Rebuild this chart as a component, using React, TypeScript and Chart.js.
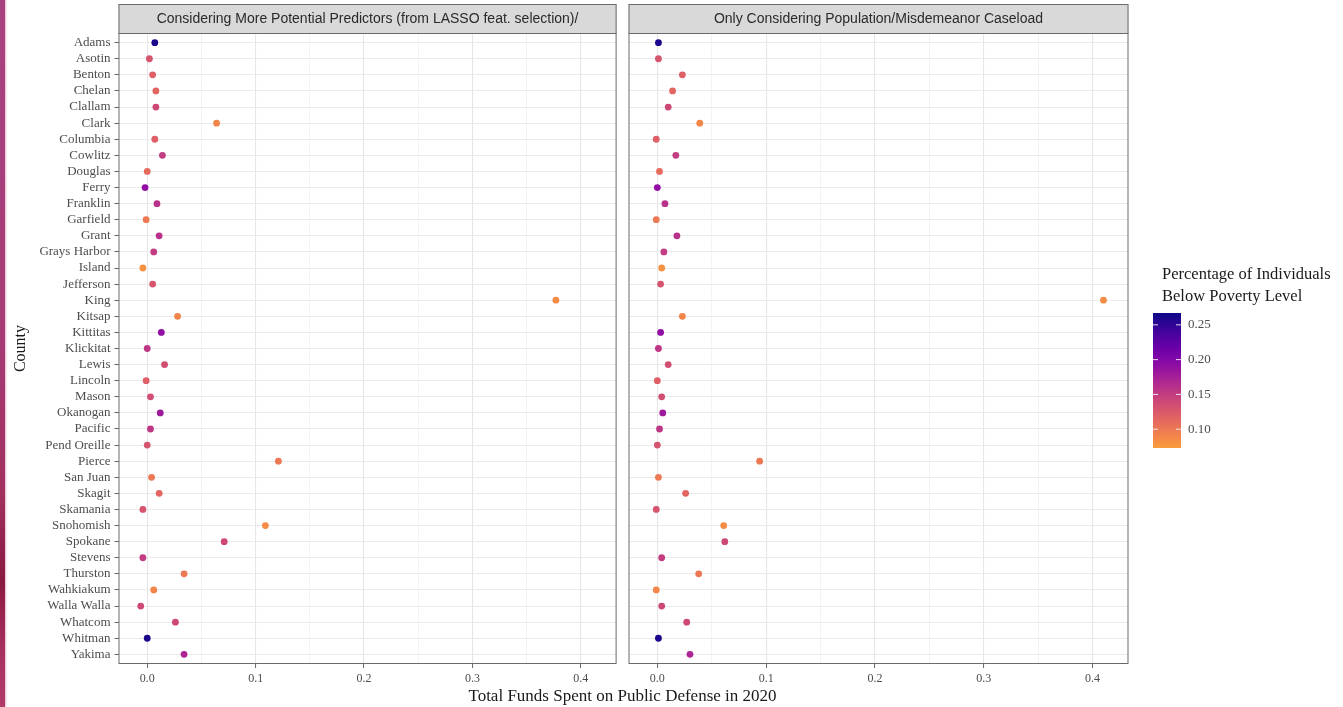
import React, { useEffect, useRef } from 'react';
import { Chart, registerables } from 'chart.js';

Chart.register(...registerables);

const counties = [
  'Adams', 'Asotin', 'Benton', 'Chelan', 'Clallam', 'Clark', 'Columbia', 'Cowlitz',
  'Douglas', 'Ferry', 'Franklin', 'Garfield', 'Grant', 'Grays Harbor', 'Island',
  'Jefferson', 'King', 'Kitsap', 'Kittitas', 'Klickitat', 'Lewis', 'Lincoln', 'Mason',
  'Okanogan', 'Pacific', 'Pend Oreille', 'Pierce', 'San Juan', 'Skagit', 'Skamania',
  'Snohomish', 'Spokane', 'Stevens', 'Thurston', 'Wahkiakum', 'Walla Walla', 'Whatcom',
  'Whitman', 'Yakima',
];

// Panel 1: more potential predictors (LASSO)
const lassoFunds = [
  0.007, 0.002, 0.005, 0.008, 0.008, 0.064, 0.007, 0.014,
  0.000, -0.002, 0.009, -0.001, 0.011, 0.006, -0.004,
  0.005, 0.377, 0.028, 0.013, 0.000, 0.016, -0.001, 0.003,
  0.012, 0.003, 0.000, 0.121, 0.004, 0.011, -0.004,
  0.109, 0.071, -0.004, 0.034, 0.006, -0.006, 0.026,
  0.000, 0.034,
];

// Panel 2: population / misdemeanor caseload only
const caseloadFunds = [
  0.001, 0.001, 0.023, 0.014, 0.010, 0.039, -0.001, 0.017,
  0.002, 0.000, 0.007, -0.001, 0.018, 0.006, 0.004,
  0.003, 0.410, 0.023, 0.003, 0.001, 0.010, 0.000, 0.004,
  0.005, 0.002, 0.000, 0.094, 0.001, 0.026, -0.001,
  0.061, 0.062, 0.004, 0.038, -0.001, 0.004, 0.027,
  0.001, 0.030,
];

// Percentage of individuals below poverty level
const povertyRate = [
  0.26, 0.13, 0.12, 0.115, 0.14, 0.09, 0.12, 0.15,
  0.11, 0.19, 0.16, 0.10, 0.16, 0.15, 0.08,
  0.13, 0.085, 0.09, 0.19, 0.155, 0.135, 0.12, 0.135,
  0.18, 0.155, 0.13, 0.10, 0.10, 0.115, 0.13,
  0.085, 0.14, 0.15, 0.10, 0.09, 0.14, 0.14,
  0.26, 0.17,
];

const panelTitles = [
  'Considering More Potential Predictors (from LASSO feat. selection)/',
  'Only Considering Population/Misdemeanor Caseload',
];

const xTickValues = [0, 0.1, 0.2, 0.3, 0.4];
const xTickLabels = ['0.0', '0.1', '0.2', '0.3', '0.4'];
const xMinorValues = [0.05, 0.15, 0.25, 0.35];

const legendTitle = ['Percentage of Individuals', 'Below Poverty Level'];
const legendTickValues = [0.10, 0.15, 0.20, 0.25];
const legendTickLabels = ['0.10', '0.15', '0.20', '0.25'];

const xAxisTitle = 'Total Funds Spent on Public Defense in 2020';
const yAxisTitle = 'County';

const X_MIN = -0.0265;
const X_MAX = 0.433;
const POV_MIN = 0.073;
const POV_MAX = 0.267;
const PAL_END = 0.77;

const PLASMA = ['#0d0887', '#41049d', '#6a00a8', '#8f0da4', '#b12a90', '#cc4778', '#e16462', '#f2844b', '#fca636', '#fcce25', '#f0f921'];

function hexToRgb(h: string) {
  const n = parseInt(h.slice(1), 16);
  return [(n >> 16) & 255, (n >> 8) & 255, n & 255];
}

function plasma(t: number) {
  const c = Math.max(0, Math.min(1, t)) * (PLASMA.length - 1);
  const i = Math.min(PLASMA.length - 2, Math.floor(c));
  const f = c - i;
  const a = hexToRgb(PLASMA[i]);
  const b = hexToRgb(PLASMA[i + 1]);
  const r = a.map((v, k) => Math.round(v + (b[k] - v) * f));
  return `rgb(${r[0]},${r[1]},${r[2]})`;
}

function povColor(v: number) {
  return plasma(PAL_END * (POV_MAX - v) / (POV_MAX - POV_MIN));
}

const SERIF = '"Liberation Serif", "DejaVu Serif", serif';
const SANS = '"Liberation Sans", Arial, sans-serif';

function panelPlugin(label: string) {
  return {
    id: 'panelFrame',
    afterDraw(chart: any) {
      const { ctx, chartArea: a } = chart;
      ctx.save();
      ctx.fillStyle = '#D9D9D9';
      ctx.fillRect(a.left, 4, a.right - a.left, a.top - 4);
      ctx.strokeStyle = '#6a6a6a';
      ctx.lineWidth = 1;
      ctx.strokeRect(a.left + 0.5, 4.5, a.right - a.left - 1, a.top - 4);
      ctx.strokeRect(a.left + 0.5, a.top + 0.5, a.right - a.left - 1, a.bottom - a.top - 1);
      ctx.fillStyle = '#2a2a2a';
      ctx.font = `14px ${SANS}`;
      ctx.textAlign = 'center';
      ctx.textBaseline = 'middle';
      ctx.fillText(label, (a.left + a.right) / 2, (4 + a.top) / 2 + 1);
      ctx.restore();
    },
  };
}

const RIGHT_OX = 620;

const legendPlugin = {
  id: 'povLegend',
  afterDraw(chart: any) {
    const { ctx } = chart;
    ctx.save();
    ctx.fillStyle = '#1a1a1a';
    ctx.font = `16.5px ${SERIF}`;
    ctx.textAlign = 'left';
    ctx.textBaseline = 'middle';
    ctx.fillText(legendTitle[0], 1162 - RIGHT_OX, 275);
    ctx.fillText(legendTitle[1], 1162 - RIGHT_OX, 297);
    const bx = 1153 - RIGHT_OX, bw = 28, by = 313, bh = 135;
    const g = ctx.createLinearGradient(0, by, 0, by + bh);
    for (let i = 0; i <= 24; i++) {
      const f = i / 24;
      g.addColorStop(f, povColor(POV_MAX - f * (POV_MAX - POV_MIN)));
    }
    ctx.fillStyle = g;
    ctx.fillRect(bx, by, bw, bh);
    ctx.strokeStyle = 'rgba(255,255,255,0.85)';
    ctx.lineWidth = 1;
    ctx.font = `13px ${SERIF}`;
    legendTickValues.forEach((v, i) => {
      const y = by + (POV_MAX - v) / (POV_MAX - POV_MIN) * bh;
      ctx.beginPath();
      ctx.moveTo(bx, y); ctx.lineTo(bx + 5, y);
      ctx.moveTo(bx + bw - 5, y); ctx.lineTo(bx + bw, y);
      ctx.stroke();
      ctx.fillStyle = '#4d4d4d';
      ctx.fillText(legendTickLabels[i], bx + bw + 7, y);
    });
    ctx.restore();
  },
};

function makeConfig(values: number[], title: string, isLeft: boolean, canvasW: number, plotLeft: number, plotRight: number): any {
  const isMajor = (v: number) => xTickValues.some((m) => Math.abs(m - v) < 1e-9);
  return {
    type: 'scatter',
    data: {
      datasets: [{
        data: values.map((x, i) => ({ x, y: i })),
        pointBackgroundColor: povertyRate.map(povColor),
        pointBorderWidth: 0,
        pointRadius: 3.4,
        pointHoverRadius: 3.4,
      }],
    },
    options: {
      responsive: false,
      animation: false,
      events: [],
      layout: { padding: { top: 33, right: canvasW - plotRight, left: 0, bottom: 0 } },
      plugins: { legend: { display: false }, tooltip: { enabled: false } },
      scales: {
        x: {
          type: 'linear',
          min: X_MIN,
          max: X_MAX,
          afterBuildTicks: (s: any) => {
            s.ticks = [...xTickValues, ...xMinorValues].sort((a, b) => a - b).map((v) => ({ value: v }));
          },
          afterFit: (s: any) => { s.height = 43; },
          border: { display: false },
          grid: {
            color: (c: any) => (c.tick && isMajor(c.tick.value) ? '#E6E6E6' : '#F0F0F0'),
            lineWidth: (c: any) => (c.tick && isMajor(c.tick.value) ? 1.1 : 0.8),
            tickColor: (c: any) => (c.tick && isMajor(c.tick.value) ? '#666' : 'rgba(0,0,0,0)'),
            tickLength: 4,
            tickWidth: 1,
          },
          ticks: {
            autoSkip: false,
            maxRotation: 0,
            padding: 4,
            color: '#4d4d4d',
            font: { family: SERIF, size: 12 },
            callback: (v: number) => {
              const i = xTickValues.findIndex((m) => Math.abs(m - v) < 1e-9);
              return i >= 0 ? xTickLabels[i] : '';
            },
          },
        },
        y: {
          type: 'linear',
          min: -0.6,
          max: counties.length - 1 + 0.6,
          reverse: true,
          afterBuildTicks: (s: any) => { s.ticks = counties.map((_, i) => ({ value: i })); },
          afterFit: (s: any) => { s.width = plotLeft; },
          border: { display: false },
          grid: {
            color: '#EBEBEB',
            lineWidth: 1,
            drawTicks: isLeft,
            tickColor: '#666',
            tickLength: 4,
          },
          ticks: {
            display: isLeft,
            autoSkip: false,
            padding: 4,
            color: '#4d4d4d',
            font: { family: SERIF, size: 13 },
            callback: (v: number) => counties[Math.round(v)] ?? '',
          },
          title: {
            display: isLeft,
            text: yAxisTitle,
            color: '#1a1a1a',
            font: { family: SERIF, size: 16 },
            padding: { top: 11, bottom: 0 },
          },
        },
      },
    },
    plugins: [panelPlugin(title), ...(isLeft ? [] : [legendPlugin])],
  };
}

export default function App() {
  const leftRef = useRef<HTMLCanvasElement>(null);
  const rightRef = useRef<HTMLCanvasElement>(null);

  useEffect(() => {
    document.body.style.margin = '0';
    const c1 = new Chart(leftRef.current as HTMLCanvasElement, makeConfig(lassoFunds, panelTitles[0], true, 620, 118.5, 618.5));
    const c2 = new Chart(rightRef.current as HTMLCanvasElement, makeConfig(caseloadFunds, panelTitles[1], false, 723, 8.5, 508.5));
    return () => { c1.destroy(); c2.destroy(); };
  }, []);

  return (
    <div style={{ position: 'absolute', left: 0, top: 0, width: 1343, height: 707, background: '#fff', overflow: 'hidden' }}>
      <div style={{
        position: 'absolute', left: 0, top: 0, width: 5, height: 707,
        background: 'linear-gradient(180deg, #A8427F 0%, #A63C78 45%, #A2305F 70%, #8A1842 82%, #A8305F 92%, #B03C6C 100%)',
        boxShadow: '1px 0 2px rgba(200,90,140,0.45)',
      }} />
      <canvas ref={leftRef} width={620} height={707} style={{ position: 'absolute', left: 0, top: 0 }} />
      <canvas ref={rightRef} width={723} height={707} style={{ position: 'absolute', left: 620, top: 0 }} />
      <div style={{
        position: 'absolute', left: 322.5, width: 600, top: 686, lineHeight: '20px',
        textAlign: 'center', fontFamily: SERIF, fontSize: 17, color: '#1a1a1a', whiteSpace: 'nowrap',
      }}>{xAxisTitle}</div>
    </div>
  );
}
